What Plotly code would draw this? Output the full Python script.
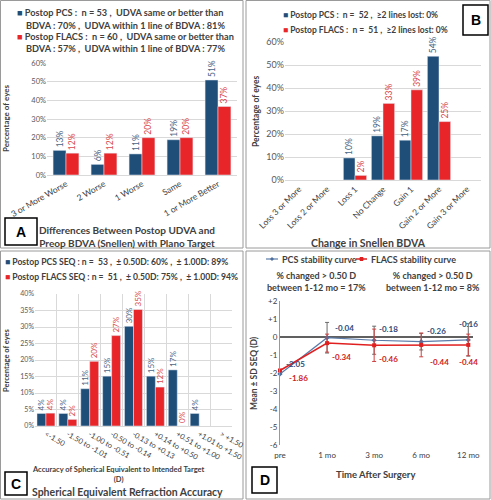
import plotly.graph_objects as go

W, H = 491, 500
BLUE = "#1F4E79"
RED = "#E8262A"
BLUE_TXT = "#4A6585"
RED_TXT = "#D9484B"
GRID = "#D9D9D9"
TXT = "#404040"
FONT = "Lato"

# ---------------- data ----------------
a_cats = ["3 or More Worse", "2 Worse", "1 Worse", "Same", "1 or More Better"]
a_pcs = [13.2, 5.7, 11.3, 18.9, 50.9]
a_flacs = [11.7, 11.7, 20.0, 20.0, 36.7]

b_cats = ["Loss 3 or More", "Loss 2 or More", "Loss 1", "No Change", "Gain 1",
          "Gain 2 or More", "Gain 3 or More"]
b_pcs = [None, None, 9.6, 19.2, 17.3, 53.8, None]
b_flacs = [None, None, 2.0, 33.3, 39.2, 25.4, None]

c_cats = ["<-1.50", "-1.50 to -1.01", "-1.00 to -0.51", "-0.50 to -0.14",
          "-0.13 to +0.13", "+0.14 to +0.50", "+0.51 to +1.00", "+1.01 to +1.50", "> +1.50"]
c_pcs = [3.8, 3.8, 11.3, 15.1, 30.2, 15.1, 17.0, 3.8, None]
c_flacs = [3.9, 2.0, 19.6, 27.4, 35.3, 11.8, 0.0, None, None]

d_times = ["pre", "1 mo", "3 mo", "6 mo", "12 mo"]
d_pcs = [-2.05, -0.04, -0.18, -0.26, -0.16]
d_flacs = [-1.86, -0.34, -0.46, -0.44, -0.44]
d_pcs_sd = [0, 0.85, 0.78, 0.46, 0.9]
d_flacs_sd = [0, 0.5, 0.9, 0.66, 0.6]
d_yticks = [2, 1, 0, -1, -2, -3, -4, -5, -6]
d_yticktext = ["+2", "+1", "0", "-1", "-2", "-3", "-4", "-5", "-6"]


def px(x):
    return x / W


def py(y):
    return 1 - y / H


fig = go.Figure()


def bars(cats, vals, color, tcolor, xa, ya, width, offset, size):
    fig.add_trace(go.Bar(
        x=cats, y=vals, marker_color=color, width=width, offset=offset,
        xaxis=xa, yaxis=ya, texttemplate="%{y:.0f}%", textposition="outside",
        textangle=-90, constraintext="none", textfont=dict(size=size, color=tcolor, family=FONT),
        cliponaxis=False, showlegend=False, hoverinfo="skip"))


bars(a_cats, a_pcs, BLUE, BLUE_TXT, "x", "y", 0.34, -0.34, 8.5)
bars(a_cats, a_flacs, RED, RED_TXT, "x", "y", 0.34, 0.0, 8.5)
bars(b_cats, b_pcs, BLUE, BLUE_TXT, "x2", "y2", 0.415, -0.415, 8.5)
bars(b_cats, b_flacs, RED, RED_TXT, "x2", "y2", 0.415, 0.0, 8.5)
bars(c_cats, c_pcs, BLUE, BLUE_TXT, "x3", "y3", 0.41, -0.41, 8)
bars(c_cats, c_flacs, RED, RED_TXT, "x3", "y3", 0.41, 0.0, 8)

# panel D lines
fig.add_trace(go.Scatter(
    x=d_times, y=d_pcs, xaxis="x4", yaxis="y4", mode="lines+markers",
    line=dict(color="#5B7BA8", width=1.2), marker=dict(symbol="diamond", size=4, color="#4F6F9F"),
    error_y=dict(type="data", array=d_pcs_sd, color="#6B6B6B", thickness=1, width=2),
    cliponaxis=False, showlegend=False, hoverinfo="skip"))
fig.add_trace(go.Scatter(
    x=d_times, y=d_flacs, xaxis="x4", yaxis="y4", mode="lines+markers",
    line=dict(color="#E02020", width=1.5), marker=dict(symbol="square", size=4, color="#E02020"),
    error_y=dict(type="data", array=d_flacs_sd, color="#D04040", thickness=1, width=2),
    cliponaxis=False, showlegend=False, hoverinfo="skip"))

layout_axes = dict(
    xaxis=dict(domain=[px(47), px(237)], anchor="y", tickangle=-30, tickfont=dict(family=FONT, size=8.5, color=TXT),
               showline=True, linecolor=GRID, ticks="", range=[-0.5, 4.5], automargin=False),
    yaxis=dict(domain=[py(175), py(63)], anchor="x", range=[0, 60], dtick=10, ticksuffix="%",
               gridcolor=GRID, zeroline=False, automargin=False,
               tickfont=dict(family=FONT, size=7.5, color="#595959")),
    xaxis2=dict(domain=[px(285), px(481)], anchor="y2", tickangle=-45, tickfont=dict(family=FONT, size=8.5, color=TXT),
                showline=True, linecolor=GRID, ticks="", range=[-0.5, 6.5], automargin=False),
    yaxis2=dict(domain=[py(180), py(42)], anchor="x2", range=[0, 60], dtick=10, ticksuffix="%",
                gridcolor=GRID, zeroline=False, automargin=False,
                tickfont=dict(family=FONT, size=9, color="#595959")),
    xaxis3=dict(domain=[px(35), px(232)], anchor="y3", tickangle=30, tickfont=dict(family=FONT, size=7.5, color=TXT),
                showline=True, linecolor=GRID, ticks="", tickson="boundaries", showgrid=True, gridcolor=GRID,
                range=[-0.5, 8.5], automargin=False),
    yaxis3=dict(domain=[py(426), py(294)], anchor="x3", range=[0, 40], dtick=5, ticksuffix="%",
                gridcolor=GRID, zeroline=False, automargin=False,
                tickfont=dict(family=FONT, size=7, color="#595959")),
    xaxis4=dict(domain=[px(280), px(473)], anchor="y4", range=[0, 4.1], showgrid=False, zeroline=False,
                showline=False, ticks="", automargin=False, ticklabelstandoff=4,
                tickfont=dict(family=FONT, size=8, color=TXT)),
    yaxis4=dict(domain=[py(445), py(301)], anchor="x4", range=[-6, 2], tickvals=d_yticks, ticktext=d_yticktext,
                showgrid=False, zeroline=True, zerolinecolor="#606060", zerolinewidth=2,
                showline=True, linecolor="#E07A7A", linewidth=1, ticks="", automargin=False,
                tickfont=dict(family=FONT, size=8, color=TXT)),
)

ann = []


def text(x, y, t, size=9, color=TXT, bold=True, xanchor="left", yanchor="middle", angle=0, **kw):
    ann.append(dict(x=px(x), y=py(y), xref="paper", yref="paper", text=("<b>%s</b>" % t) if bold else t,
                    showarrow=False, xanchor=xanchor, yanchor=yanchor, textangle=angle,
                    font=dict(family=FONT, size=size, color=color), **kw))


def sq(c):
    return "<span style='color:%s'>■</span> " % c


# Panel A legend
text(15, 12, sq(BLUE) + "Postop PCS :  n = 53 ,  UDVA same or better than", 9.2)
text(24, 25, "BDVA : 70% ,  UDVA within 1 line of BDVA : 81%", 9.2)
text(15, 37, sq(RED) + "Postop FLACS :  n = 60 ,  UDVA same or better than", 9.2)
text(24, 49, "BDVA : 57% ,  UDVA within 1 line of BDVA : 77%", 9.2)
text(6, 119, "Percentage of eyes", 8, xanchor="center", angle=-90)
text(127, 236, "Differences Between Postop UDVA and<br>Preop BDVA (Snellen) with Plano Target", 10, xanchor="center")

# Panel B
text(281, 15, sq(BLUE) + "Postop PCS :  n =  52 ,  ≥2 lines lost: 0%", 8.5)
text(281, 30, sq(RED) + "Postop FLACS :  n =  51 ,  ≥2 lines lost: 0%", 8.5)
text(256, 111, "Percentage of eyes", 8.5, xanchor="center", angle=-90)
text(368, 243, "Change in Snellen BDVA", 10.5, xanchor="center")

# Panel C
text(3, 262, sq(BLUE) + "Postop PCS SEQ : n =  53 ,  ± 0.50D: 60% ,  ± 1.00D: 89%", 8.6)
text(3, 277, sq(RED) + "Postop FLACS SEQ : n =  51 ,  ± 0.50D: 75% ,  ± 1.00D: 94%", 8.6)
text(6, 360, "Percentage of eyes", 7.5, xanchor="center", angle=-90)
text(118, 474, "Accuracy of Spherical Equivalent to Intended Target<br>(D)", 7.5, xanchor="center")
text(128, 492, "Spherical Equivalent Refraction Accuracy", 10.5, xanchor="center")

# Panel D
text(280, 259, "PCS stability curve", 9)
text(369, 259, "FLACS stability curve", 9)
text(316, 281, "% changed > 0.50 D<br>between 1-12 mo = 17%", 9, xanchor="center")
text(433, 281, "% changed > 0.50 D<br>between 1-12 mo = 8%", 9, xanchor="center")
text(254, 373, "Mean ± SD SEQ (D)", 8.5, xanchor="center", angle=-90)
text(375, 474, "Time After Surgery", 9.5, xanchor="center")

# D data labels (attached to data points)
pcs_off = [(4, 10, "left"), (6, 10, "left"), (3, 11, "left"), (4, 11, "left"), (0, 16, "center")]
fl_off = [(7, -8, "left"), (3, -14, "left"), (3, -14, "left"), (7, -17, "left"), (0, -17, "center")]
for i, t in enumerate(d_times):
    dx, dy, xa = pcs_off[i]
    ann.append(dict(x=t, y=d_pcs[i], xref="x4", yref="y4", text="<b>%.2f</b>" % d_pcs[i], showarrow=False,
                    xanchor=xa, yanchor="middle", xshift=dx, yshift=dy,
                    font=dict(family=FONT, size=8, color="#2E4A7A")))
    dx, dy, xa = fl_off[i]
    ann.append(dict(x=t, y=d_flacs[i], xref="x4", yref="y4", text="<b>%.2f</b>" % d_flacs[i], showarrow=False,
                    xanchor=xa, yanchor="middle", xshift=dx, yshift=dy,
                    font=dict(family=FONT, size=8, color="#D02020")))

boxes = [(5, 218, 37, 245, "A"), (463, 5, 488, 35, "B"), (5, 472, 27, 495, "C"), (252, 467, 277, 493, "D")]
for (x0, y0, x1, y1, L) in boxes:
    ann.append(dict(x=px((x0 + x1) / 2), y=py((y0 + y1) / 2), xref="paper", yref="paper",
                    text="<b>%s</b>" % L, showarrow=False, xanchor="center", yanchor="middle",
                    font=dict(family="Liberation Sans", size=14, color="black")))

shapes = []
# panel borders
for (x0, y0, x1, y1) in [(0.5, 0.5, 243, 248), (246, 0.5, 490, 248), (0.5, 251, 243, 499), (246, 251, 490, 499)]:
    shapes.append(dict(type="rect", xref="paper", yref="paper", x0=px(x0), x1=px(x1), y0=py(y0), y1=py(y1),
                       line=dict(color="#9A9A9A", width=1), layer="below"))
for (x0, y0, x1, y1, L) in boxes:
    shapes.append(dict(type="rect", xref="paper", yref="paper", x0=px(x0), x1=px(x1), y0=py(y0), y1=py(y1),
                       line=dict(color="black", width=1.5), fillcolor="white", layer="above"))

# D legend glyphs
shapes.append(dict(type="line", xref="paper", yref="paper", x0=px(266), x1=px(278), y0=py(259), y1=py(259),
                   line=dict(color="#5B7BA8", width=1.2)))
shapes.append(dict(type="rect", xref="paper", yref="paper", x0=px(271), x1=px(273), y0=py(260), y1=py(258),
                   line=dict(color="#4F6F9F", width=1), fillcolor="#4F6F9F"))
shapes.append(dict(type="line", xref="paper", yref="paper", x0=px(356), x1=px(367), y0=py(259), y1=py(259),
                   line=dict(color="#E02020", width=1.5)))
shapes.append(dict(type="rect", xref="paper", yref="paper", x0=px(360), x1=px(363), y0=py(260.5), y1=py(257.5),
                   line=dict(color="#E02020", width=1), fillcolor="#E02020"))

fig.update_layout(
    width=W, height=H, margin=dict(l=0, r=0, t=0, b=0, autoexpand=False),
    paper_bgcolor="white", plot_bgcolor="white",
    barmode="group", showlegend=False,
    font=dict(family=FONT, size=9, color=TXT),
    annotations=ann, shapes=shapes, **layout_axes)

fig.write_html("out.html", config={"displayModeBar": False, "staticPlot": True},
               post_script="document.body.style.margin='0';document.body.style.overflow='hidden';")
